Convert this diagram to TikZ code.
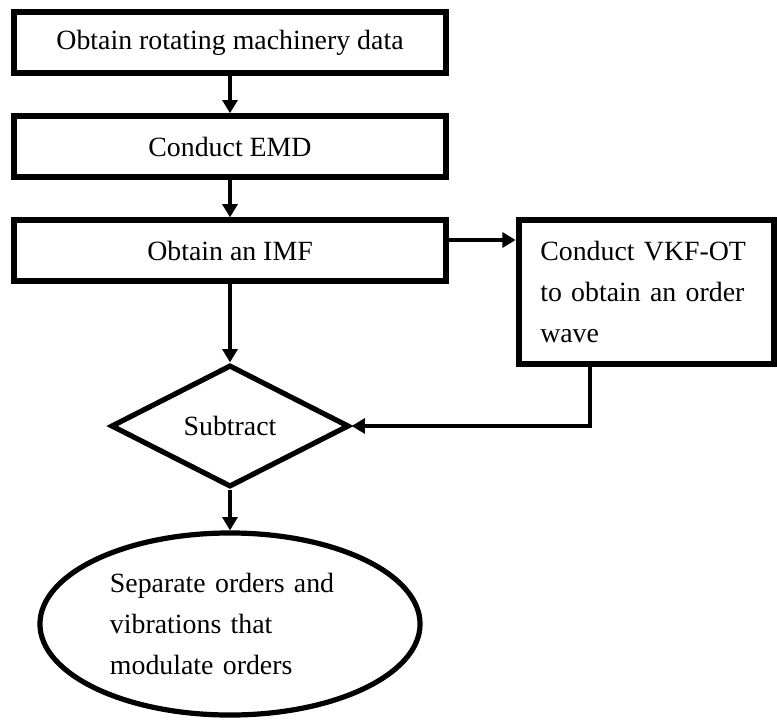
\documentclass[tikz,border=0pt]{standalone}
\usepackage{fontspec}
\setmainfont{Liberation Serif}
\usetikzlibrary{shapes.geometric,arrows.meta}

\begin{document}
\begin{tikzpicture}[x=0.025cm,y=-0.025cm,
  every node/.style={font=\fontsize{19.8}{29.1}\selectfont},
  stepbox/.style={shape=rectangle,draw=black,line width=0.15cm,minimum width=10.8cm,minimum height=1.52cm},
  arr/.style={-{Triangle[width=0.37cm,length=0.33cm]},line width=0.11cm}]
\useasboundingbox (0,0) rectangle (777,719);

\node[stepbox] (data) at (230,42.7) {Obtain rotating machinery data};
\node[stepbox] (emd) at (230,146.7) {Conduct EMD};
\node[stepbox] (imf) at (230,250.8) {Obtain an IMF};
\node[shape=rectangle,draw=black,line width=0.15cm,minimum width=6.38cm,minimum height=3.6cm,
      text width=5.3cm,align=left] (vkf) at (646.3,292.3) {Conduct VKF-OT\\to obtain an order\\wave};
\node[shape=diamond,draw=black,line width=0.13cm,minimum width=5.95cm,minimum height=3.05cm,
      inner sep=0pt] (sub) at (230,426) {Subtract};
\node[shape=ellipse,draw=black,line width=0.13cm,minimum width=9.5cm,minimum height=4.55cm,
      text width=6cm,align=left,inner sep=0pt] (sep) at (230,624)
      {Separate orders and\\vibrations that\\modulate orders};

\coordinate (tap) at ([yshift=0.27cm]imf.east);

\path[arr] (data) edge (emd);
\path[arr] (emd) edge (imf);
\path[arr] (imf) edge (sub);
\path[arr] (tap) edge (tap -| vkf.west);
\draw[arr] ([xshift=-1.4cm]vkf.south) |- (sub.east);
\path[arr] (sub) edge (sep);
\end{tikzpicture}
\end{document}
